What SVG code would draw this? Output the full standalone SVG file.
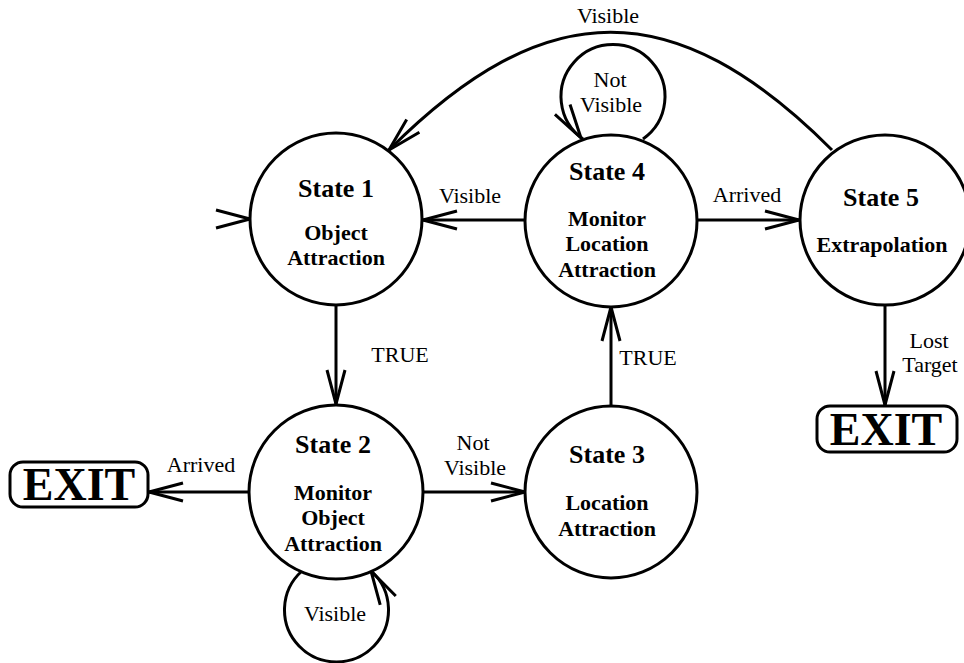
<svg xmlns="http://www.w3.org/2000/svg" xmlns:xlink="http://www.w3.org/1999/xlink" width="964" height="663" viewBox="0 0 964 663">
  <style>
    .state { fill: #fff; stroke: #000; stroke-width: 3; }
    .exit { fill: #fff; stroke: #000; stroke-width: 3; }
    .edge { fill: none; stroke: #000; stroke-width: 3; }
    .title { font-family: "Liberation Serif", "Times New Roman", serif; font-weight: bold; font-size: 26px; text-anchor: middle; fill: #000; }
    .sub { font-family: "Liberation Serif", "Times New Roman", serif; font-weight: bold; font-size: 22px; text-anchor: middle; fill: #000; }
    .lbl { font-family: "Liberation Serif", "Times New Roman", serif; font-size: 22px; text-anchor: middle; fill: #000; }
    .exittxt { font-family: "Liberation Serif", "Times New Roman", serif; font-weight: bold; font-size: 46px; text-anchor: middle; fill: #000; }
  </style>
  <defs>
    <!-- open V arrowhead, tip at the origin, pointing along +x -->
    <path id="vhead" d="M-34,-9 L0,0 L-34,9" fill="none" stroke="#000" stroke-width="3" stroke-linejoin="round" stroke-linecap="butt"/>
    <marker id="arr" markerUnits="userSpaceOnUse" markerWidth="40" markerHeight="24" refX="0" refY="0" orient="auto" overflow="visible">
      <use xlink:href="#vhead" href="#vhead"/>
    </marker>
  </defs>

  <g id="connectors">
    <!-- initial-state marker -->
    <use xlink:href="#vhead" href="#vhead" transform="translate(250,219)"/>
    <!-- State 1 -> State 2 -->
    <line class="edge" x1="336" y1="305" x2="336" y2="404" marker-end="url(#arr)"/>
    <text class="lbl" x="400" y="362">TRUE</text>
    <!-- State 4 -> State 1 -->
    <line class="edge" x1="525" y1="220" x2="423" y2="220" marker-end="url(#arr)"/>
    <text class="lbl" x="470" y="203">Visible</text>
    <!-- State 4 -> State 5 -->
    <line class="edge" x1="697" y1="220" x2="799" y2="220" marker-end="url(#arr)"/>
    <text class="lbl" x="747" y="202">Arrived</text>
    <!-- State 3 -> State 4 -->
    <line class="edge" x1="611" y1="406" x2="611" y2="307" marker-end="url(#arr)"/>
    <text class="lbl" x="648" y="365">TRUE</text>
    <!-- State 2 -> State 3 -->
    <line class="edge" x1="423" y1="492" x2="525" y2="492" marker-end="url(#arr)"/>
    <text class="lbl" x="473" y="450">Not</text>
    <text class="lbl" x="475" y="475">Visible</text>
    <!-- State 2 -> EXIT -->
    <line class="edge" x1="249" y1="492" x2="149" y2="492" marker-end="url(#arr)"/>
    <text class="lbl" x="201" y="472">Arrived</text>
    <!-- State 5 -> EXIT -->
    <line class="edge" x1="885" y1="306" x2="885" y2="405" marker-end="url(#arr)"/>
    <text class="lbl" x="929" y="348">Lost</text>
    <text class="lbl" x="930" y="372">Target</text>
    <!-- State 5 -> State 1 -->
    <path class="edge" d="M832,150 C675,-7 546,-7 389,150" marker-end="url(#arr)"/>
    <text class="lbl" x="608" y="23">Visible</text>
    <!-- State 4 self loop -->
    <path class="edge" d="M643,139 A52,52 0 1 0 583,139"/>
    <use xlink:href="#vhead" href="#vhead" transform="translate(581,138) rotate(57)"/>
    <text class="lbl" x="610" y="87">Not</text>
    <text class="lbl" x="611" y="112">Visible</text>
    <!-- State 2 self loop -->
    <path class="edge" d="M302,571 A52,52 0 1 0 371,571"/>
    <use xlink:href="#vhead" href="#vhead" transform="translate(371,571) rotate(240)"/>
    <text class="lbl" x="335" y="621">Visible</text>
  </g>

  <g id="state1">
    <circle class="state" cx="336" cy="219" r="86"/>
    <text class="title" x="336" y="197">State 1</text>
    <text class="sub" x="336" y="240">Object</text>
    <text class="sub" x="336" y="265">Attraction</text>
  </g>
  <g id="state2">
    <circle class="state" cx="336" cy="492" r="87"/>
    <text class="title" x="333" y="453">State 2</text>
    <text class="sub" x="333" y="500">Monitor</text>
    <text class="sub" x="333" y="525">Object</text>
    <text class="sub" x="333" y="551">Attraction</text>
  </g>
  <g id="state3">
    <circle class="state" cx="611" cy="492" r="86"/>
    <text class="title" x="607" y="463">State 3</text>
    <text class="sub" x="607" y="510">Location</text>
    <text class="sub" x="607" y="536">Attraction</text>
  </g>
  <g id="state4">
    <circle class="state" cx="611" cy="221" r="86"/>
    <text class="title" x="607" y="180">State 4</text>
    <text class="sub" x="607" y="226">Monitor</text>
    <text class="sub" x="607" y="251">Location</text>
    <text class="sub" x="607" y="277">Attraction</text>
  </g>
  <g id="state5">
    <circle class="state" cx="885" cy="220" r="85"/>
    <text class="title" x="881" y="206">State 5</text>
    <text class="sub" x="882" y="252">Extrapolation</text>
  </g>
  <g id="exit-left">
    <rect class="exit" x="10" y="462" width="138" height="45" rx="13" ry="13"/>
    <text class="exittxt" x="79" y="500">EXIT</text>
  </g>
  <g id="exit-right">
    <rect class="exit" x="817" y="406" width="140" height="46" rx="13" ry="13"/>
    <text class="exittxt" x="886" y="445">EXIT</text>
  </g>
</svg>
